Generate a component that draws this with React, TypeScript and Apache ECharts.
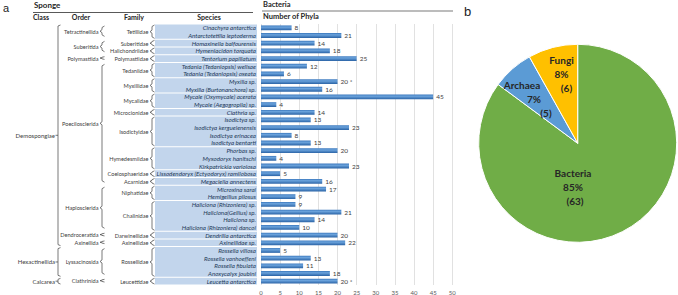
import { useEffect, useRef } from "react";
import * as echarts from "echarts";

// Sponge species and the number of microbial phyla recorded for each
const species = [
  "Cinachyra antarctica",
  "Antarctotetilla leptoderma",
  "Homaxinella balfourensis",
  "Hymeniacidon torquata",
  "Tentorium papillatum",
  "Tedania (Tedaniopsis) wellsae",
  "Tedania (Tedaniopsis) oxeata",
  "Myxilla sp.",
  "Myxilla (Burtonanchora) sp.",
  "Mycale (Oxymycale) acerata",
  "Mycale (Aegogropila) sp.",
  "Clathria sp.",
  "Isodictya sp.",
  "Isodictya kerguelenensis",
  "Isodictya erinacea",
  "Isodictya bentarti",
  "Phorbas sp.",
  "Myxodoryx hanitschi",
  "Kirkpatrickia variolosa",
  "Lissodendoryx (Ectyodoryx) ramilobosa",
  "Megaciella annectens",
  "Microxina sarai",
  "Hemigellius pilosus",
  "Haliclona (Rhizoniera) sp.",
  "Haliclona(Gellius) sp.",
  "Haliclona sp.",
  "Haliclona (Rhizoniera) dancoi",
  "Dendrilla antarctica",
  "Axinellidae sp.",
  "Rossella villosa",
  "Rossella vanhoeffeni",
  "Rossella fibulata",
  "Anoxycalyx joubini",
  "Leucetta antarctica",
];

const phyla = [
  8, 21, 14, 18, 25, 12, 6, 20, 16, 45, 4, 14, 13, 23, 8, 13, 20, 4, 23, 5, 16,
  17, 9, 9, 21, 14, 10, 20, 22, 5, 13, 11, 18, 20,
];

// Species marked with an asterisk next to their value
const flagged = ["Myxilla sp.", "Leucetta antarctica"];

// Families, with the number of species each one holds (in row order)
const families: [string, number][] = [
  ["Tetillidae", 2],
  ["Suberitidae", 1],
  ["Halichondriidae", 1],
  ["Polymastiidae", 1],
  ["Tedaniidae", 2],
  ["Myxillidae", 2],
  ["Mycalidae", 2],
  ["Microcionidae", 1],
  ["Isodictyidae", 4],
  ["Hymedesmiidae", 3],
  ["Coelosphaeridae", 1],
  ["Acarnidae", 1],
  ["Niphatidae", 2],
  ["Chalinidae", 4],
  ["Darwinellidae", 1],
  ["Axinellidae", 1],
  ["Rossellidae", 4],
  ["Leucettidae", 1],
];

// Orders, with the number of families each one holds
const orders: [string, number][] = [
  ["Tetractinellida", 1],
  ["Suberitida", 2],
  ["Polymastiida", 1],
  ["Poecilosclerida", 8],
  ["Haplosclerida", 2],
  ["Dendroceratida", 1],
  ["Axinellida", 1],
  ["Lyssacinosida", 1],
  ["Clathrinida", 1],
];

// Classes, with the number of orders each one holds
const classes: [string, number][] = [
  ["Demospongiae", 7],
  ["Hexactinellida", 1],
  ["Calcarea", 1],
];

// Panel b: phyla per kingdom
const kingdoms = ["Bacteria", "Archaea", "Fungi"];
const kingdomPhyla = [63, 5, 6];

const FONT = "Lato, 'Open Sans', sans-serif";
const kingdomColors = ["#70ad47", "#5b9bd5", "#ffc000"];
// left/right padding for the three label lines of each slice
const pieLinePads = [
  [0, 0, 4],
  [-24, 0, 24],
  [0, 0, 10],
];
// where each slice's label block is centred
const pieLabelAt = [
  [573, 187],
  [534, 98.5],
  [561.5, 74],
];

function pad(p: number) {
  return p >= 0 ? [0, 0, 0, p] : [0, -p, 0, 0];
}

const pieRich: Record<string, any> = {};
kingdoms.forEach((_, i) => {
  ["n", "v", "c"].forEach((k, j) => {
    pieRich[k + i] = {
      fontSize: 10,
      fontWeight: "bold",
      fontFamily: FONT,
      color: "#262626",
      lineHeight: 14,
      padding: pad(pieLinePads[i][j]),
    };
  });
});

function brace(x: number, y1: number, y2: number) {
  const ym = (y1 + y2) / 2;
  const c = Math.min(1.5, (y2 - y1) / 5);
  return {
    type: "polyline",
    silent: true,
    shape: {
      points: [
        [x + 2.5, y1],
        [x, y1 + c],
        [x, ym - c],
        [x - 2, ym],
        [x, ym + c],
        [x, y2 - c],
        [x + 2.5, y2],
      ],
    },
    style: { stroke: "#404040", lineWidth: 0.7, fill: "none" },
  };
}

function label(text: string, x: number, y: number, size = 5.6, extra: any = {}) {
  return {
    type: "text",
    silent: true,
    x,
    y,
    style: {
      text,
      fill: "#404040",
      fontSize: size,
      fontFamily: FONT,
      align: "right",
      verticalAlign: "middle",
      ...extra,
    },
  };
}

function buildGraphic(chart: echarts.ECharts) {
  const rowY = (i: number) => chart.convertToPixel({ yAxisIndex: 0 }, i) as number;
  const pitch = rowY(1) - rowY(0);
  const top = (i: number) => rowY(i) - pitch / 2;
  const bot = (i: number) => rowY(i) + pitch / 2;
  const els: any[] = [];

  // headers
  els.push(label("a", 3, 8, 11, { align: "left", fill: "#222", fontFamily: "'Liberation Sans', Arial, sans-serif" }));
  els.push(label("b", 464, 11, 13, { align: "left", fill: "#222", fontFamily: "'Liberation Sans', Arial, sans-serif" }));
  els.push(label("Sponge", 34, 5, 8, { align: "left", fontWeight: "bold", fill: "#262626" }));
  els.push(label("Bacteria", 263, 4.5, 7.5, { align: "left", fontWeight: "bold", fill: "#262626" }));
  els.push(label("Number of Phyla", 263, 16.5, 7.5, { align: "left", fontWeight: "bold", fill: "#262626" }));
  const heads: [string, number][] = [
    ["Class", 41],
    ["Order", 81],
    ["Family", 134],
    ["Species", 209],
  ];
  heads.forEach(([t, x]) =>
    els.push(label(t, x, 17, 7, { align: "center", fontWeight: "bold", fill: "#262626" }))
  );
  els.push({
    type: "line",
    silent: true,
    shape: { x1: 33, y1: 12.5, x2: 253, y2: 12.5 },
    style: { stroke: "#595959", lineWidth: 1 },
  });
  els.push({
    type: "line",
    silent: true,
    shape: { x1: 262, y1: 11, x2: 453, y2: 11 },
    style: { stroke: "#a6a6a6", lineWidth: 1.5 },
  });

  // families: species boxes, braces and names
  const famSpans: { s: number; e: number }[] = [];
  let r = 0;
  families.forEach(([name, n]) => {
    const s = r;
    const e = r + n - 1;
    r += n;
    famSpans.push({ s, e });
    els.push({
      type: "rect",
      silent: true,
      z: -1,
      shape: { x: 155, y: top(s) + 0.5, width: 102, height: bot(e) - top(s) - 1 },
      style: { fill: "#c2d5ec" },
    });
    const y1 = top(s) + 1;
    const y2 = bot(e) - 1;
    els.push(brace(152, y1, y2));
    els.push(label(name, 148.5, (y1 + y2) / 2));
  });

  // orders
  const ordSpans: { s: number; e: number }[] = [];
  let f = 0;
  orders.forEach(([name, n]) => {
    const s = famSpans[f].s;
    const e = famSpans[f + n - 1].e;
    f += n;
    ordSpans.push({ s, e });
    const y1 = top(s) + 2;
    const y2 = bot(e) - 3;
    els.push(brace(102, y1, y2));
    els.push(label(name, 98.5, (y1 + y2) / 2));
  });

  // classes
  let o = 0;
  classes.forEach(([name, n]) => {
    const s = ordSpans[o].s;
    const e = ordSpans[o + n - 1].e;
    o += n;
    const y1 = top(s) + 1;
    const y2 = bot(e) - 1;
    const ym = (y1 + y2) / 2;
    els.push({
      type: "polyline",
      silent: true,
      shape: {
        points: [
          [60.5, y1],
          [58, y1 + 1],
          [58, y2 - 1],
          [60.5, y2],
        ],
      },
      style: { stroke: "#404040", lineWidth: 0.7, fill: "none" },
    });
    els.push({
      type: "line",
      silent: true,
      shape: { x1: 55.5, y1: ym, x2: 58, y2: ym },
      style: { stroke: "#404040", lineWidth: 0.7 },
    });
    els.push(label(name, 55, ym, 6));
  });

  return els;
}

const barGradient = new echarts.graphic.LinearGradient(0, 0, 0, 1, [
  { offset: 0, color: "#3b78bd" },
  { offset: 0.35, color: "#6ba3dc" },
  { offset: 1, color: "#2a63a6" },
]);

const option: any = {
  animation: false,
  grid: { left: 261, top: 24, width: 191.3, height: 261, containLabel: false },
  xAxis: {
    type: "value",
    min: 0,
    max: 50,
    interval: 5,
    axisLine: { show: false },
    axisTick: { show: false },
    splitLine: { lineStyle: { color: "#d9d9d9", width: 0.8 } },
    axisLabel: { fontSize: 6, color: "#595959", fontFamily: FONT, margin: 4 },
  },
  yAxis: {
    type: "category",
    inverse: true,
    data: species,
    axisLine: { show: false },
    axisTick: { show: false },
    axisLabel: {
      interval: 0,
      fontSize: 6.2,
      fontStyle: "italic",
      fontFamily: FONT,
      color: "#243a5a",
      margin: 5,
    },
  },
  series: [
    {
      type: "bar",
      data: phyla,
      barWidth: 4.8,
      silent: true,
      itemStyle: { color: barGradient },
      label: {
        show: true,
        position: "right",
        distance: 3,
        fontSize: 6.5,
        fontFamily: FONT,
        color: "#404040",
        formatter: (p: any) =>
          flagged.includes(species[p.dataIndex]) ? `${p.value} *` : `${p.value}`,
      },
    },
    {
      type: "pie",
      center: [577.7, 143.3],
      radius: 99,
      startAngle: 90,
      clockwise: true,
      silent: true,
      avoidLabelOverlap: false,
      data: kingdoms.map((k, i) => ({
        name: k,
        value: kingdomPhyla[i],
        itemStyle: { color: kingdomColors[i] },
      })),
      itemStyle: { borderColor: "#ffffff", borderWidth: 1 },
      labelLine: { show: false },
      label: {
        show: true,
        position: "inside",
        rich: pieRich,
        formatter: (p: any) =>
          `{n${p.dataIndex}|${p.name}}\n{v${p.dataIndex}|${Math.round(p.percent)}%}\n{c${p.dataIndex}|(${p.value})}`,
      },
      labelLayout: (p: any) => ({
        x: pieLabelAt[p.dataIndex][0],
        y: pieLabelAt[p.dataIndex][1],
        align: "center",
        verticalAlign: "middle",
      }),
    },
  ],
};

export default function App() {
  const ref = useRef<HTMLDivElement>(null);
  useEffect(() => {
    const chart = echarts.init(ref.current!, null, { renderer: "svg" });
    chart.setOption(option);
    chart.setOption({ graphic: buildGraphic(chart) });
    return () => chart.dispose();
  }, []);
  return (
    <div
      ref={ref}
      style={{ position: "absolute", left: 0, top: 0, width: 678, height: 295, background: "#fff" }}
    />
  );
}
